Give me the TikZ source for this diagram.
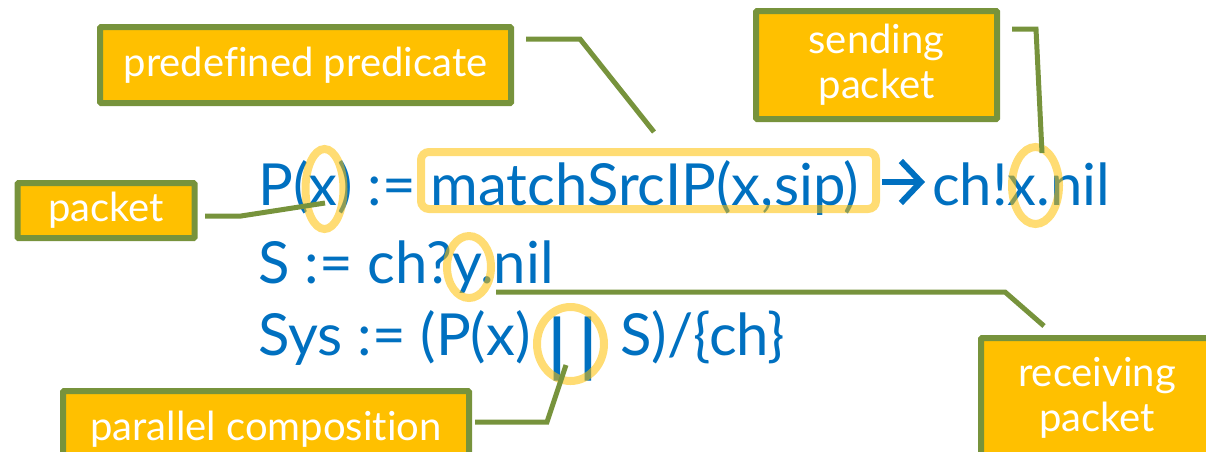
\documentclass[tikz,border=0pt]{standalone}
\usepackage{fontspec}
\setmainfont[Ligatures=NoCommon]{Lato}
\usetikzlibrary{shapes.geometric,arrows.meta}
\definecolor{codeblue}{HTML}{0070C0}
\definecolor{calloutfill}{HTML}{FFC000}
\definecolor{calloutedge}{HTML}{77933C}
\tikzset{
  callout/.style={draw=calloutedge, line width=6pt, fill=calloutfill, rounded corners=1pt,
    text=white, font=\fontsize{40}{45}\selectfont, align=center, inner sep=0pt},
  leader/.style={draw=calloutedge, line width=5pt},
  code/.style={text=codeblue, font=\fontsize{58}{60}\selectfont, anchor=base west, inner sep=0pt},
  barglyph/.style={text=codeblue, font=\fontsize{68}{70}\selectfont\bfseries, anchor=center, inner sep=0pt},
  hilite/.style={draw=calloutfill, line width=8pt, opacity=0.55, inner sep=0pt},
}
\begin{document}
\begin{tikzpicture}[x=1pt,y=-1pt]
\clip (0,0) rectangle (1206,451);
\useasboundingbox (0,0) rectangle (1206,451);

% the process definitions
\node[code] (l1a) at (258,205) {P(x) := matchSrcIP(x,sip)};
\node[code] (l1b) at (932,205) {ch!x.nil};
\coordinate (ar1) at (882,182); \coordinate (ar2) at (925,182);
\draw[codeblue, line width=6pt, -{Straight Barb[length=20pt, width=42pt, line width=6pt]}] (ar1) -- (ar2);
\node[code] (l2) at (258,283) {S := ch?y.nil};
\node[code] (l3a) at (258,355) {Sys := (P(x)};
\node[barglyph] (bar1) at (557,349) {|};
\node[barglyph] (bar2) at (588,349) {|};
\node[code] (l3b) at (620,355) {S)/\{ch\}};

% highlighted parts
\node[hilite, ellipse, minimum width=38pt, minimum height=80pt] (hx) at (324.5,189) {};
\node[hilite, rounded corners=8pt, minimum width=455pt, minimum height=57pt] (hpred) at (648.5,180.5) {};
\node[hilite, ellipse, minimum width=47pt, minimum height=77pt] (hsend) at (1035.5,185.5) {};
\node[hilite, ellipse, minimum width=44pt, minimum height=62pt] (hy) at (469,267) {};
\node[hilite, ellipse, minimum width=67pt, minimum height=74pt] (hpar) at (570.5,344) {};

% callout boxes
\node[callout, minimum width=411pt, minimum height=76pt] (pp) at (305.5,65) {predefined predicate};
\node[callout, minimum width=241pt, minimum height=108pt] (sp) at (876.5,65) {sending\\packet};
\node[callout, minimum width=177pt, minimum height=55pt] (pk) at (106,210.5) {packet};
\node[callout, minimum width=406pt, minimum height=80pt] (pc) at (266,431) {\raisebox{11pt}{parallel composition}};
\node[callout, minimum width=232pt, minimum height=120pt] (rp) at (1097,398) {receiving\\packet};

% leader lines
\coordinate (a1) at (526,39);  \coordinate (a2) at (580,39);  \coordinate (a3) at (654,132);
\coordinate (b1) at (1012,29); \coordinate (b2) at (1036,29); \coordinate (b3) at (1042,153);
\coordinate (c1) at (205,216); \coordinate (c2) at (241,216); \coordinate (c3) at (325,203);
\coordinate (d1) at (496,292); \coordinate (d2) at (1005,292); \coordinate (d3) at (1044,326);
\coordinate (e1) at (475,422); \coordinate (e2) at (547,422); \coordinate (e3) at (566,365);
\draw[leader] (a1) -- (a2) -- (a3);
\draw[leader] (b1) -- (b2) -- (b3);
\draw[leader] (c1) -- (c2) -- (c3);
\draw[leader] (d1) -- (d2) -- (d3);
\draw[leader] (e1) -- (e2) -- (e3);
\end{tikzpicture}
\end{document}
